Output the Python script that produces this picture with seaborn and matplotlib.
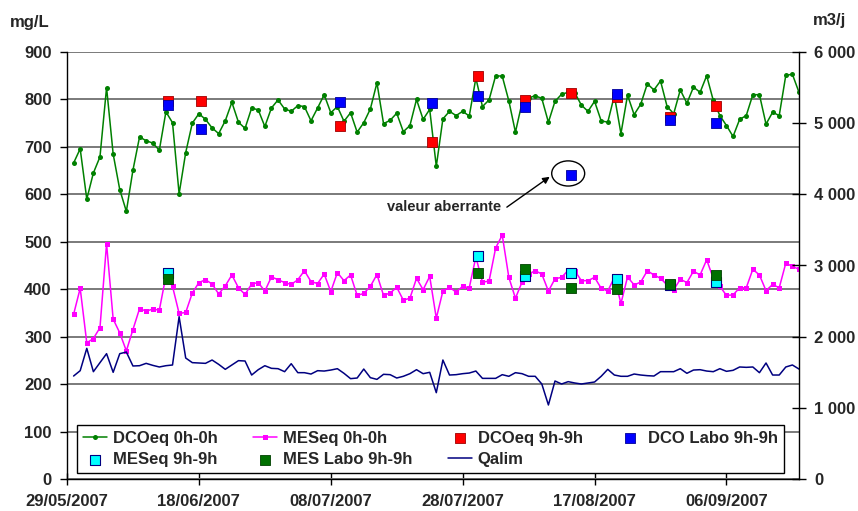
import numpy as np
import pandas as pd
import matplotlib
matplotlib.use("Agg")
import matplotlib.pyplot as plt
import matplotlib.dates as mdates
from matplotlib.patches import Ellipse
from matplotlib.ticker import FixedLocator, FuncFormatter
import seaborn as sns

# ---- data -------------------------------------------------------------
first_day = "2007-05-30"

dco_eq_0h = [666, 696, 590, 645, 679, 825, 685, 610, 564, 651,
             721, 713, 708, 693, 774, 751, 601, 688, 750, 770,
             758, 740, 728, 755, 794, 752, 739, 782, 778, 743,
             782, 799, 780, 775, 787, 785, 755, 782, 810, 772,
             785, 754, 772, 731, 751, 780, 835, 749, 756, 771,
             732, 745, 800, 758, 779, 659, 759, 775, 766, 775,
             765, 845, 785, 799, 850, 849, 797, 731, 793, 803,
             808, 802, 752, 796, 811, 815, 814, 788, 775, 796,
             755, 752, 808, 728, 809, 768, 790, 833, 820, 839,
             785, 770, 820, 792, 826, 815, 850, 798, 766, 745,
             722, 758, 766, 810, 810, 748, 773, 766, 851, 853,
             815, 785]

mes_eq_0h = [347, 402, 287, 296, 319, 496, 337, 308, 270, 315,
             359, 354, 358, 356, 428, 406, 349, 351, 392, 414,
             420, 411, 390, 407, 430, 403, 389, 411, 414, 396,
             426, 420, 414, 410, 420, 439, 416, 412, 432, 395,
             435, 418, 430, 387, 391, 406, 431, 387, 392, 404,
             377, 381, 423, 399, 427, 339, 396, 404, 394, 406,
             403, 468, 415, 417, 487, 514, 425, 381, 415, 432,
             439, 432, 396, 422, 425, 440, 439, 418, 418, 425,
             402, 396, 425, 370, 426, 409, 415, 439, 430, 423,
             409, 399, 421, 414, 438, 430, 462, 423, 406, 387,
             388, 403, 403, 442, 430, 397, 410, 403, 455, 448,
             442, 420]

qalim = [1447, 1522, 1836, 1508, 1635, 1761, 1499, 1761, 1784, 1588,
         1592, 1625, 1597, 1574, 1592, 1602, 2281, 1700, 1635, 1630,
         1625, 1672, 1611, 1541, 1602, 1663, 1658, 1461, 1536, 1592,
         1555, 1550, 1508, 1620, 1494, 1494, 1475, 1522, 1517, 1531,
         1550, 1485, 1410, 1419, 1545, 1424, 1400, 1471, 1466, 1419,
         1443, 1480, 1536, 1480, 1499, 1213, 1672, 1461, 1466, 1480,
         1489, 1517, 1414, 1414, 1414, 1466, 1443, 1494, 1480, 1443,
         1443, 1335, 1040, 1377, 1335, 1368, 1349, 1335, 1349, 1363,
         1443, 1541, 1461, 1443, 1443, 1475, 1461, 1452, 1447, 1508,
         1508, 1508, 1550, 1485, 1531, 1536, 1517, 1508, 1550, 1513,
         1527, 1574, 1569, 1574, 1494, 1630, 1461, 1461, 1574, 1602,
         1545, 1500]

dco_sample_days = ["2007-06-13", "2007-06-18", "2007-07-09", "2007-07-23",
                   "2007-07-30", "2007-08-06", "2007-08-13", "2007-08-20",
                   "2007-08-28", "2007-09-04"]
dco_eq_9h = [797, 796, 744, 710, 849, 799, 814, 806, 762, 787]
dco_labo_9h = [789, 738, 794, 792, 808, 785, 640, 812, 757, 750]

mes_sample_days = ["2007-06-13", "2007-07-30", "2007-08-06", "2007-08-13",
                   "2007-08-20", "2007-08-28", "2007-09-04"]
mes_eq_9h = [434, 471, 427, 434, 421, 408, 415]
mes_labo_9h = [421, 435, 442, 403, 400, 411, 430]

x_tick_days = ["2007-05-29", "2007-06-18", "2007-07-08", "2007-07-28",
               "2007-08-17", "2007-09-06"]

# ---- prepared frames --------------------------------------------------
days = pd.date_range(first_day, periods=len(dco_eq_0h), freq="D")
daily = pd.DataFrame({"date": days, "dco": dco_eq_0h, "mes": mes_eq_0h,
                      "q": qalim})
dco_9h = pd.DataFrame({"date": pd.to_datetime(dco_sample_days) + pd.Timedelta(hours=9),
                       "eq": dco_eq_9h, "labo": dco_labo_9h})
mes_9h = pd.DataFrame({"date": pd.to_datetime(mes_sample_days) + pd.Timedelta(hours=9),
                       "eq": mes_eq_9h, "labo": mes_labo_9h})

# ---- style --------------------------------------------------------------
sns.set_theme(style="ticks")
plt.rcParams["font.family"] = ["Liberation Sans", "DejaVu Sans"]
plt.rcParams["font.weight"] = "bold"
plt.rcParams["font.size"] = 12

W, H = 858, 511
fig = plt.figure(figsize=(W / 100, H / 100), dpi=100)
L, R, T, B = 67, 799, 52, 479
ax = fig.add_axes([L / W, 1 - B / H, (R - L) / W, (B - T) / H])
ax2 = ax.twinx()

# ---- series -------------------------------------------------------------
sns.lineplot(data=daily, x="date", y="dco", ax=ax, color="#008000", lw=1.1,
             marker="o", markersize=3.6, markeredgewidth=0,
             label="DCOeq 0h-0h", legend=False)
sns.lineplot(data=daily, x="date", y="mes", ax=ax, color="#FF00FF", lw=1.1,
             marker="s", markersize=3.6, markeredgewidth=0,
             label="MESeq 0h-0h", legend=False)
sns.scatterplot(data=dco_9h, x="date", y="eq", ax=ax, marker="s", s=48,
                color="#FF0000", edgecolor="#A00000", linewidth=0.6,
                label="DCOeq 9h-9h", legend=False, zorder=3)
sns.scatterplot(data=dco_9h, x="date", y="labo", ax=ax, marker="s", s=48,
                color="#0000FF", edgecolor="#000099", linewidth=0.6,
                label="DCO Labo 9h-9h", legend=False, zorder=3)
sns.scatterplot(data=mes_9h, x="date", y="eq", ax=ax, marker="s", s=48,
                color="#00FFFF", edgecolor="#000080", linewidth=0.8,
                label="MESeq 9h-9h", legend=False, zorder=3)
sns.scatterplot(data=mes_9h, x="date", y="labo", ax=ax, marker="s", s=48,
                color="#007000", edgecolor="#004000", linewidth=0.6,
                label="MES Labo 9h-9h", legend=False, zorder=3)
sns.lineplot(data=daily, x="date", y="q", ax=ax2, color="#000080", lw=1.1,
             label="Qalim", legend=False)

# ---- axes ----------------------------------------------------------------
x0 = pd.Timestamp("2007-05-29")
x1 = pd.Timestamp("2007-09-17")
ax.set_xlim(x0, x1)
ax.set_ylim(0, 900)
ax2.set_ylim(0, 6000)

ax.set_yticks(np.arange(0, 901, 100))
ax2.set_yticks(np.arange(0, 6001, 1000))
ax2.yaxis.set_major_formatter(FuncFormatter(lambda v, p: f"{int(v):,}".replace(",", " ")))
ax.xaxis.set_major_locator(FixedLocator(mdates.date2num(pd.to_datetime(x_tick_days))))
ax.xaxis.set_major_formatter(mdates.DateFormatter("%d/%m/%Y"))

ax.set_xlabel("")
ax.set_ylabel("")
ax2.set_ylabel("")

ax.yaxis.grid(True, color="#7a7a7a", lw=1.4)
ax.set_axisbelow(True)

for sp in ["top", "right"]:
    ax.spines[sp].set_visible(False)
for sp in ["top", "left", "bottom"]:
    ax2.spines[sp].set_visible(False)
for sp in [ax.spines["left"], ax.spines["bottom"], ax2.spines["right"]]:
    sp.set_color("black")
    sp.set_linewidth(1.0)

ax.tick_params(axis="y", direction="out", length=5, width=1, pad=6,
               labelsize=12, color="black", left=True)
ax.tick_params(axis="x", direction="inout", length=9, width=1, pad=6.5,
               labelsize=12, color="black", bottom=True)
ax2.tick_params(axis="y", direction="inout", length=10, width=1, pad=6,
                labelsize=12, color="black", right=True)

fig.text(10 / W, 1 - 22 / H, "mg/L", ha="left", va="center", fontsize=12,
         fontweight="bold")
fig.text(813 / W, 1 - 20 / H, "m3/j", ha="left", va="center", fontsize=12,
         fontweight="bold")

# ---- outlier callout ----------------------------------------------------
ax.add_patch(Ellipse((mdates.date2num(pd.Timestamp("2007-08-13")), 644),
                     width=5.0, height=53, fill=False, ec="black", lw=1.0,
                     zorder=4))
ax.annotate("", xy=(mdates.date2num(x0) + 73.2, 637),
            xytext=(mdates.date2num(x0) + 66.7, 573),
            arrowprops=dict(arrowstyle="-|>", color="black", lw=1.0,
                            mutation_scale=10, shrinkA=0, shrinkB=0))
ax.text(mdates.date2num(x0) + 65.9, 574, "valeur aberrante", ha="right",
        va="center", fontsize=10.5, fontweight="bold")

# ---- legend ---------------------------------------------------------------
handles = {}
for a in (ax, ax2):
    for h, l in zip(*a.get_legend_handles_labels()):
        handles[l] = h
order = ["DCOeq 0h-0h", "MESeq 9h-9h", "MESeq 0h-0h", "MES Labo 9h-9h",
         "DCOeq 9h-9h", "Qalim", "DCO Labo 9h-9h"]
leg = ax2.legend([handles[k] for k in order], order, ncol=4,
                 loc="lower left",
                 bbox_to_anchor=((77 - L) / (R - L), (B - 473) / (B - T),
                                 (784 - 77) / (R - L), (473 - 423) / (B - T)),
                 mode="expand", borderaxespad=0, frameon=True,
                 fancybox=False, edgecolor="black", framealpha=1,
                 fontsize=12, handlelength=1.45, handletextpad=0.35,
                 borderpad=0.35, labelspacing=0.4, columnspacing=1.0)
leg.get_frame().set_linewidth(1.0)
leg.set_zorder(10)

fig.savefig("out.png", dpi=100)
